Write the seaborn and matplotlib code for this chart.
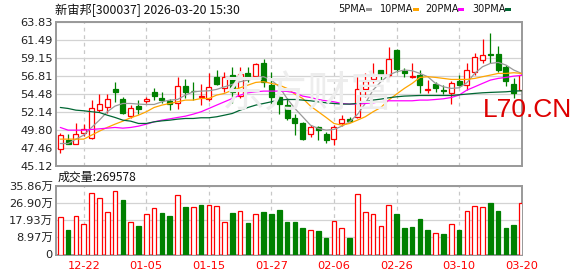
import numpy as np
import pandas as pd
import matplotlib
matplotlib.use("Agg")
import matplotlib.pyplot as plt
import seaborn as sns

# ---------------- data ----------------
dates = ["12-17", "12-18", "12-19", "12-22", "12-23", "12-24", "12-25", "12-26", "12-29", "12-30",
         "12-31", "01-05", "01-06", "01-07", "01-08", "01-09", "01-12", "01-13", "01-14", "01-15",
         "01-16", "01-19", "01-20", "01-21", "01-22", "01-23", "01-26", "01-27", "01-28", "01-29",
         "01-30", "02-02", "02-03", "02-04", "02-05", "02-06", "02-09", "02-10", "02-11", "02-12",
         "02-13", "02-24", "02-25", "02-26", "02-27", "03-02", "03-03", "03-04", "03-05", "03-06",
         "03-09", "03-10", "03-11", "03-12", "03-13", "03-16", "03-17", "03-18", "03-19", "03-20"]

open_ = [47.33, 48.42, 47.98, 49.41, 48.76, 52.32, 52.67, 55.06, 53.76, 51.59,
         52.85, 53.45, 54.71, 53.89, 53.50, 53.19, 55.45, 54.85, 54.00, 53.71,
         56.58, 55.15, 56.88, 54.15, 57.10, 56.80, 58.40, 55.58, 53.97, 52.97,
         51.33, 50.59, 49.28, 50.07, 49.20, 48.63, 50.67, 51.15, 51.46, 55.10,
         56.32, 57.54, 56.88, 60.14, 57.45, 56.58, 56.88, 54.93, 55.71, 54.93,
         54.50, 56.10, 55.58, 57.32, 58.84, 59.62, 59.58, 57.97, 55.71, 54.93]
high = [49.37, 49.28, 50.59, 50.50, 53.63, 54.41, 54.41, 56.00, 54.06, 52.97,
        53.63, 53.98, 55.15, 54.71, 53.71, 56.67, 56.32, 56.00, 55.67, 57.19,
        57.54, 57.23, 57.97, 57.97, 57.97, 58.49, 58.93, 57.32, 54.15, 53.84,
        51.80, 50.80, 50.37, 50.24, 49.50, 50.37, 51.67, 51.46, 56.58, 57.19,
        58.49, 57.54, 60.58, 60.23, 57.75, 58.49, 57.54, 56.23, 56.02, 55.58,
        56.10, 56.88, 58.49, 59.71, 61.53, 62.31, 60.66, 58.19, 56.45, 59.36]
low = [46.77, 47.89, 47.89, 48.94, 48.63, 52.11, 51.89, 53.41, 51.80, 51.24,
       51.80, 53.19, 53.63, 53.19, 52.32, 52.41, 53.84, 53.63, 52.98, 53.54,
       55.58, 54.71, 53.28, 53.84, 56.02, 56.67, 55.36, 52.98, 51.80, 51.02,
       49.07, 48.50, 48.85, 48.50, 48.07, 47.76, 50.24, 50.80, 51.24, 53.97,
       55.80, 56.10, 56.67, 57.32, 56.67, 56.45, 54.58, 54.58, 54.71, 54.41,
       53.10, 55.49, 54.93, 56.88, 58.40, 58.40, 57.32, 55.45, 53.84, 54.50]
close = [49.07, 47.98, 49.28, 49.93, 52.54, 53.06, 53.71, 54.71, 51.98, 52.54,
         52.50, 53.76, 54.15, 53.63, 53.06, 55.49, 54.71, 54.76, 54.10, 55.36,
         55.71, 56.58, 54.71, 56.97, 56.36, 58.32, 56.02, 54.06, 53.11, 51.24,
         50.67, 48.63, 50.07, 49.72, 48.50, 50.15, 51.11, 50.93, 55.02, 56.15,
         56.84, 56.88, 58.93, 57.62, 57.19, 56.75, 55.58, 55.02, 55.23, 54.85,
         55.80, 55.58, 57.54, 59.19, 59.49, 59.45, 57.54, 56.15, 54.50, 56.88]

# volume in 万 (10k lots)
volume_wan = [19.4, 12.8, 19.9, 15.8, 31.9, 29.3, 22.0, 32.9, 28.4, 16.8,
              14.9, 21.1, 24.1, 21.6, 20.1, 31.0, 24.8, 24.6, 26.0, 25.8,
              25.1, 16.8, 21.6, 22.5, 16.5, 21.0, 22.2, 21.1, 23.2, 17.0,
              17.0, 13.9, 12.6, 12.3, 8.7, 17.3, 13.7, 8.7, 31.5, 22.0,
              21.1, 14.7, 25.8, 21.1, 13.9, 14.4, 18.5, 12.8, 11.1, 10.7,
              15.8, 12.8, 22.5, 25.3, 24.6, 26.8, 22.7, 13.9, 15.4, 26.96]

ma5 = [47.98, 47.98, 48.55, 49.07, 50.07, 51.02, 52.11, 52.85, 53.19, 53.19,
       53.11, 53.06, 53.06, 53.41, 53.63, 53.71, 54.28, 54.71, 54.80, 54.84,
       55.02, 55.36, 55.67, 56.02, 56.23, 56.58, 56.67, 56.23, 55.36, 53.84,
       52.54, 51.46, 50.37, 49.94, 49.72, 49.80, 50.24, 50.80, 51.76, 53.19,
       54.93, 56.02, 56.88, 57.32, 57.54, 57.45, 57.10, 56.67, 55.80, 55.36,
       55.15, 55.23, 55.89, 57.10, 57.97, 58.40, 58.53, 58.19, 57.54, 57.10]
ma10 = [48.55, 48.55, 48.55, 48.55, 49.07, 49.59, 50.07, 50.50, 50.89, 51.33,
        51.67, 52.11, 52.67, 52.98, 53.19, 53.41, 53.63, 53.63, 53.84, 53.84,
        54.28, 54.50, 54.93, 55.23, 55.58, 55.93, 56.02, 55.80, 55.58, 55.15,
        54.41, 53.84, 52.85, 52.11, 51.37, 50.59, 50.37, 50.59, 51.02, 51.46,
        52.11, 52.67, 53.63, 54.41, 55.15, 55.80, 56.58, 56.67, 56.58, 56.45,
        56.32, 56.32, 56.32, 56.45, 56.67, 56.88, 57.10, 57.10, 57.19, 57.10]
ma20 = [50.07, 49.72, 49.72, 49.72, 49.81, 49.89, 49.98, 50.07, 49.98, 50.07,
        50.24, 50.50, 50.80, 51.02, 51.19, 51.37, 51.54, 51.80, 52.11, 52.54,
        52.98, 53.41, 53.84, 54.28, 54.58, 54.71, 54.80, 54.80, 54.80, 54.76,
        54.58, 54.15, 53.97, 53.71, 53.54, 53.41, 53.19, 53.11, 53.11, 53.19,
        53.28, 53.41, 53.54, 53.54, 53.54, 53.54, 53.63, 53.63, 53.71, 53.80,
        53.97, 54.28, 54.93, 55.36, 55.80, 56.23, 56.45, 56.58, 56.75, 56.85]
ma30 = [52.67, 52.54, 52.32, 52.24, 52.11, 52.02, 51.67, 51.37, 51.02, 50.89,
        50.59, 50.59, 50.80, 50.93, 51.02, 51.15, 51.24, 51.24, 51.33, 51.33,
        51.46, 51.67, 51.89, 52.32, 52.67, 52.98, 53.19, 53.41, 53.63, 53.71,
        53.71, 53.63, 53.54, 53.41, 53.28, 53.19, 53.11, 53.11, 53.19, 53.41,
        53.63, 53.76, 53.93, 54.06, 54.15, 54.19, 54.23, 54.23, 54.23, 54.23,
        54.23, 54.32, 54.41, 54.50, 54.58, 54.63, 54.67, 54.71, 54.80, 54.84]

price_ticks = [45.12, 47.46, 49.80, 52.14, 54.48, 56.81, 59.15, 61.49, 63.83]
vol_ticks = [0, 8.97, 17.93, 26.90, 35.86]
vol_tick_labels = ["0", "8.97万", "17.93万", "26.90万", "35.86万"]
date_tick_labels = ["12-22", "01-05", "01-15", "01-27", "02-06", "02-26", "03-10", "03-20"]
ma_names = ["5PMA", "10PMA", "20PMA", "30PMA"]
title_text = "新宙邦[300037] 2026-03-20 15:30"
vol_title = "成交量:269578"
watermark = "L70.CN"
bg_mark = "东方财富"

# ---------------- style ----------------
sns.set_theme(style="white")
plt.rcParams['font.family'] = ['DejaVu Sans', 'Noto Sans CJK SC']

RED = "#FF0000"
GREEN = "#008000"
MA_COLORS = ["#999999", "#FFA500", "#FF00FF", "#006633"]
GRID = "#D3D3D3"
FRAME = "#999999"

W, H = 578, 276
fig = plt.figure(figsize=(W / 100, H / 100), dpi=100)
fig.patch.set_facecolor("white")

ax = fig.add_axes([56 / W, 1 - 165.5 / H, 466 / W, (165.5 - 21.7) / H])
axv = fig.add_axes([56 / W, 1 - 254.5 / H, 466 / W, (254.5 - 185.7) / H])

df = pd.DataFrame({"date": dates, "open": open_, "high": high, "low": low, "close": close,
                   "vol": volume_wan, "ma5": ma5, "ma10": ma10, "ma20": ma20, "ma30": ma30})
df["i"] = np.arange(len(df))
up = df["close"] >= df["open"]
prev_close = df["close"].shift(1).fillna(df["open"].iloc[0])
vol_up = df["close"] >= prev_close

# faint background watermark
fig.text(308 / W, 1 - 96 / H, bg_mark, fontsize=31, color="#EDEDED",
         family=['Noto Sans CJK SC'], ha="center", va="center", zorder=0)
ax.patch.set_alpha(0)

# wicks
ax.vlines(df["i"], df["low"], df["high"], colors=np.where(up, RED, GREEN), linewidth=0.9, zorder=2)
# bodies
body_h = (df["close"] - df["open"]).abs().clip(lower=0.05)
body_b = df[["open", "close"]].min(axis=1)
ax.bar(df["i"][up], body_h[up], bottom=body_b[up], width=0.64, facecolor="white",
       edgecolor=RED, linewidth=0.9, zorder=3)
ax.bar(df["i"][~up], body_h[~up], bottom=body_b[~up], width=0.64, facecolor=GREEN,
       edgecolor=GREEN, linewidth=0.9, zorder=3)

# moving averages
for col, c in zip(["ma5", "ma10", "ma20", "ma30"], MA_COLORS):
    sns.lineplot(data=df, x="i", y=col, ax=ax, color=c, linewidth=0.9, legend=False, zorder=4)

# volume bars
axv.bar(df["i"][vol_up], df["vol"][vol_up], width=0.6, facecolor="white", edgecolor=RED,
        linewidth=0.9, zorder=3)
axv.bar(df["i"][~vol_up], df["vol"][~vol_up], width=0.6, facecolor=GREEN, edgecolor=GREEN,
        linewidth=0.9, zorder=3)

tick_idx = [dates.index(d) for d in date_tick_labels]

for a in (ax, axv):
    a.set_xlim(-0.55, len(df) - 0.95)
    a.set_xticks(tick_idx)
    a.xaxis.grid(True, color="#C8C8C8", linestyle=(0, (3, 3)), linewidth=0.9)
    a.yaxis.grid(True, color=GRID, linestyle="-", linewidth=0.9)
    a.set_axisbelow(True)
    a.set_xlabel("")
    a.set_ylabel("")
    for s in a.spines.values():
        s.set_color(FRAME)
        s.set_linewidth(1.4)
    a.tick_params(axis="both", length=0, labelsize=8.2, colors="#222222", pad=2.5)

ax.set_ylim(price_ticks[0], price_ticks[-1])
ax.set_yticks(price_ticks)
ax.set_yticklabels([f"{v:.2f}" for v in price_ticks])
ax.set_xticklabels([])

axv.set_ylim(vol_ticks[0], vol_ticks[-1])
axv.set_yticks(vol_ticks)
axv.set_yticklabels(vol_tick_labels)
axv.set_xticklabels(date_tick_labels)
axv.tick_params(axis="x", colors=RED, pad=5, labelsize=8.2)

# title
fig.text(55 / W, 1 - 10 / H, title_text, fontsize=8.8, color="#111111",
         family=['Noto Sans CJK SC', 'DejaVu Sans'], ha="left", va="center")
# legend
leg_x = [338, 380, 425, 472]
mark_x = [366, 413, 458, 505]
for name, c, lx, mx in zip(ma_names, MA_COLORS, leg_x, mark_x):
    fig.text(lx / W, 1 - 9.5 / H, name, fontsize=7, color="#111111", ha="left", va="center")
    fig.patches.append(plt.Rectangle((mx / W, 1 - 11 / H), 6 / W, 3 / H,
                                     transform=fig.transFigure, facecolor=c, edgecolor="none"))
# volume title
fig.text(58 / W, 1 - 177.5 / H, vol_title, fontsize=8.6, color="#111111",
         family=['Noto Sans CJK SC', 'DejaVu Sans'], ha="left", va="center")
# red watermark
fig.text(483 / W, 1 - 117 / H, watermark, fontsize=19, color="#DD0000",
         family=['Liberation Sans'], ha="left", va="baseline", zorder=10)

fig.savefig("out.png", dpi=100, facecolor="white")
